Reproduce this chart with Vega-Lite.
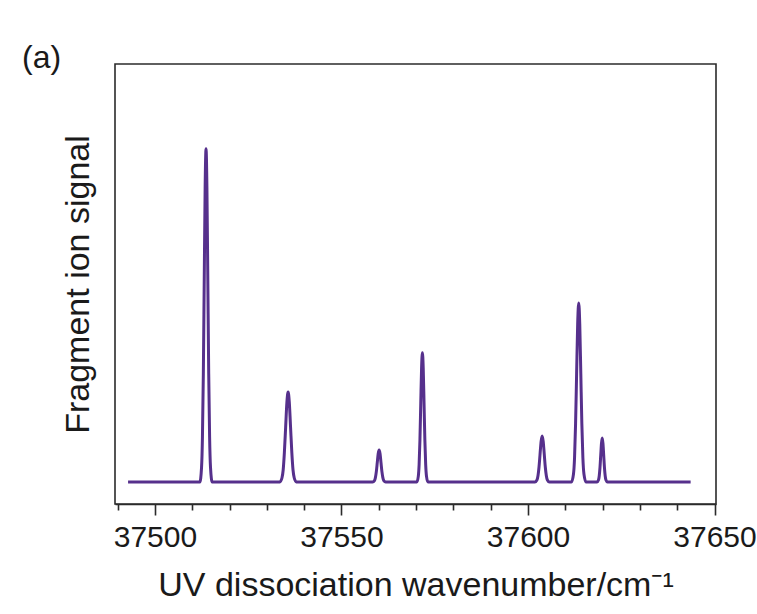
{
  "$schema": "https://vega.github.io/schema/vega-lite/v6.json",
  "autosize": {"type": "none"},
  "padding": {"left": 115, "top": 64, "right": 41, "bottom": 110},
  "width": 601,
  "height": 440,
  "background": "white",
  "title": {
    "text": "(a)",
    "anchor": "start",
    "frame": "group",
    "font": "Liberation Sans",
    "fontSize": 32,
    "fontWeight": "normal",
    "color": "#1a1a1a",
    "baseline": "alphabetic",
    "offset": 0,
    "dx": -93,
    "dy": 36
  },
  "config": {
    "view": {"stroke": "#2b2b2b", "strokeWidth": 1.6},
    "font": "Liberation Sans"
  },
  "data": {
    "values": [
      {"w": 37492.8, "s": 0},
      {"w": 37512.05, "s": 0}, {"w": 37512.5, "s": 0.044}, {"w": 37512.74, "s": 0.135}, {"w": 37512.98, "s": 0.325}, {"w": 37513.22, "s": 0.607}, {"w": 37513.46, "s": 0.882}, {"w": 37513.7, "s": 1.0}, {"w": 37513.94, "s": 0.882}, {"w": 37514.18, "s": 0.607}, {"w": 37514.42, "s": 0.325}, {"w": 37514.66, "s": 0.135}, {"w": 37514.9, "s": 0.044}, {"w": 37515.35, "s": 0},
      {"w": 37533.5, "s": 0}, {"w": 37534.05, "s": 0.012}, {"w": 37534.38, "s": 0.036}, {"w": 37534.7, "s": 0.088}, {"w": 37535.04, "s": 0.164}, {"w": 37535.37, "s": 0.238}, {"w": 37535.7, "s": 0.27}, {"w": 37536.03, "s": 0.238}, {"w": 37536.36, "s": 0.164}, {"w": 37536.7, "s": 0.088}, {"w": 37537.02, "s": 0.036}, {"w": 37537.35, "s": 0.012}, {"w": 37537.9, "s": 0},
      {"w": 37558.35, "s": 0}, {"w": 37558.85, "s": 0.004}, {"w": 37559.1, "s": 0.013}, {"w": 37559.35, "s": 0.031}, {"w": 37559.6, "s": 0.058}, {"w": 37559.85, "s": 0.085}, {"w": 37560.1, "s": 0.096}, {"w": 37560.35, "s": 0.085}, {"w": 37560.6, "s": 0.058}, {"w": 37560.85, "s": 0.031}, {"w": 37561.1, "s": 0.013}, {"w": 37561.35, "s": 0.004}, {"w": 37561.85, "s": 0},
      {"w": 37570.2, "s": 0}, {"w": 37570.6, "s": 0.017}, {"w": 37570.82, "s": 0.052}, {"w": 37571.04, "s": 0.126}, {"w": 37571.26, "s": 0.236}, {"w": 37571.48, "s": 0.342}, {"w": 37571.7, "s": 0.388}, {"w": 37571.92, "s": 0.342}, {"w": 37572.14, "s": 0.236}, {"w": 37572.36, "s": 0.126}, {"w": 37572.58, "s": 0.052}, {"w": 37572.8, "s": 0.017}, {"w": 37573.2, "s": 0},
      {"w": 37601.85, "s": 0}, {"w": 37602.4, "s": 0.006}, {"w": 37602.68, "s": 0.019}, {"w": 37602.96, "s": 0.045}, {"w": 37603.24, "s": 0.084}, {"w": 37603.52, "s": 0.122}, {"w": 37603.8, "s": 0.138}, {"w": 37604.08, "s": 0.122}, {"w": 37604.36, "s": 0.084}, {"w": 37604.64, "s": 0.045}, {"w": 37604.92, "s": 0.019}, {"w": 37605.2, "s": 0.006}, {"w": 37605.75, "s": 0},
      {"w": 37611.65, "s": 0}, {"w": 37612.2, "s": 0.024}, {"w": 37612.48, "s": 0.072}, {"w": 37612.76, "s": 0.175}, {"w": 37613.04, "s": 0.326}, {"w": 37613.32, "s": 0.474}, {"w": 37613.6, "s": 0.537}, {"w": 37613.88, "s": 0.474}, {"w": 37614.16, "s": 0.326}, {"w": 37614.44, "s": 0.175}, {"w": 37614.72, "s": 0.072}, {"w": 37615.0, "s": 0.024}, {"w": 37615.55, "s": 0},
      {"w": 37618.5, "s": 0}, {"w": 37618.9, "s": 0.006}, {"w": 37619.1, "s": 0.018}, {"w": 37619.3, "s": 0.043}, {"w": 37619.5, "s": 0.08}, {"w": 37619.7, "s": 0.116}, {"w": 37619.9, "s": 0.132}, {"w": 37620.1, "s": 0.116}, {"w": 37620.3, "s": 0.08}, {"w": 37620.5, "s": 0.043}, {"w": 37620.7, "s": 0.018}, {"w": 37620.9, "s": 0.006}, {"w": 37621.3, "s": 0},
      {"w": 37643.6, "s": 0}
    ]
  },
  "mark": {"type": "line", "color": "#56308c", "strokeWidth": 3, "interpolate": "monotone", "clip": true},
  "encoding": {
    "x": {
      "field": "w",
      "type": "quantitative",
      "scale": {"domain": [37489.3, 37650.4], "nice": false, "zero": false},
      "axis": {
        "title": "UV dissociation wavenumber/cm⁻¹",
        "titleFont": "Liberation Sans",
        "titleFontSize": 34,
        "titleFontWeight": "normal",
        "titleColor": "#1a1a1a",
        "titlePadding": 16,
        "values": [37490, 37500, 37510, 37520, 37530, 37540, 37550, 37560, 37570, 37580, 37590, 37600, 37610, 37620, 37630, 37640, 37650],
        "format": "d",
        "labelExpr": "datum.value % 50 === 0 ? datum.label : ''",
        "labelFont": "Liberation Sans",
        "labelFontSize": 30,
        "labelColor": "#1a1a1a",
        "labelPadding": 7,
        "labelOverlap": false,
        "labelBound": false,
        "labelFlush": false,
        "tickColor": "#2b2b2b",
        "tickWidth": 1.6,
        "tickSize": {"condition": {"test": "datum.value % 50 === 0", "value": 11}, "value": 6},
        "domain": true,
        "domainColor": "#2b2b2b",
        "domainWidth": 1.6,
        "grid": false
      }
    },
    "y": {
      "field": "s",
      "type": "quantitative",
      "scale": {"domain": [-0.066, 1.254], "nice": false, "zero": false},
      "axis": {
        "title": "Fragment ion signal",
        "titleFont": "Liberation Sans",
        "titleFontSize": 34,
        "titleFontWeight": "normal",
        "titleColor": "#1a1a1a",
        "titlePadding": 20,
        "labels": false,
        "ticks": false,
        "domain": false,
        "grid": false
      }
    }
  }
}
